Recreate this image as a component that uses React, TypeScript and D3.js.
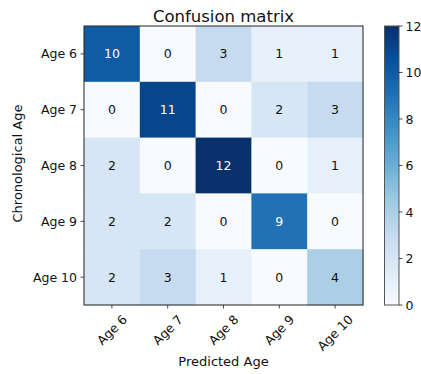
import React, { useEffect, useRef } from "react";
import * as d3 from "d3";

const labels = ["Age 6", "Age 7", "Age 8", "Age 9", "Age 10"];
// rows: chronological age, columns: predicted age
const matrix = [
  [10, 0, 3, 1, 1],
  [0, 11, 0, 2, 3],
  [2, 0, 12, 0, 1],
  [2, 2, 0, 9, 0],
  [2, 3, 1, 0, 4],
];
const colorbarTicks = [0, 2, 4, 6, 8, 10, 12];
const bluesStops = ["#f7fbff", "#deebf7", "#c6dbef", "#9ecae1", "#6baed6", "#4292c6", "#2171b5", "#08519c", "#08306b"];

const W = 421;
const H = 374;
const FONT = "DejaVu Sans, sans-serif";

export default function App() {
  const ref = useRef<SVGSVGElement>(null);

  useEffect(() => {
    const svg = d3.select(ref.current);
    svg.selectAll("*").remove();

    const left = 84, top = 26, size = 279;
    const vmax = d3.max(matrix.flat()) as number;
    const vmin = 0;

    const x = d3.scaleBand().domain(labels).range([left, left + size]);
    const y = d3.scaleBand().domain(labels).range([top, top + size]);
    const norm = d3.scaleLinear().domain([vmin, vmax]).range([0, 1]);
    const blues = d3
      .scaleLinear<string>()
      .domain(bluesStops.map((_, i) => i / (bluesStops.length - 1)))
      .range(bluesStops)
      .interpolate(d3.interpolateRgb);
    const color = (v: number) => blues(norm(v));

    const cells = matrix.flatMap((row, r) => row.map((v, c) => ({ r, c, v })));
    const g = svg.append("g");
    g.selectAll("rect.cell")
      .data(cells)
      .join("rect")
      .attr("x", (d) => x(labels[d.c])!)
      .attr("y", (d) => y(labels[d.r])!)
      .attr("width", x.bandwidth() + 0.5)
      .attr("height", y.bandwidth() + 0.5)
      .attr("fill", (d) => color(d.v));

    const thresh = vmax / 2;
    g.selectAll("text.val")
      .data(cells)
      .join("text")
      .attr("x", (d) => x(labels[d.c])! + x.bandwidth() / 2)
      .attr("y", (d) => y(labels[d.r])! + y.bandwidth() / 2)
      .attr("text-anchor", "middle")
      .attr("dominant-baseline", "central")
      .attr("font-family", FONT)
      .attr("font-size", 12.5)
      .attr("fill", (d) => (d.v > thresh ? "white" : "#111"))
      .text((d) => String(d.v));

    // frame
    svg.append("rect")
      .attr("x", left).attr("y", top).attr("width", size).attr("height", size)
      .attr("fill", "none").attr("stroke", "#222").attr("stroke-width", 1);

    // y axis ticks
    labels.forEach((l) => {
      const cy = y(l)! + y.bandwidth() / 2;
      svg.append("line")
        .attr("x1", left - 3.5).attr("x2", left).attr("y1", cy).attr("y2", cy)
        .attr("stroke", "#222").attr("stroke-width", 0.8);
      svg.append("text")
        .attr("x", left - 7).attr("y", cy)
        .attr("text-anchor", "end").attr("dominant-baseline", "central")
        .attr("font-family", FONT).attr("font-size", 12.5).attr("fill", "#111")
        .text(l);
    });

    // x axis ticks, rotated labels centred under each tick
    const fs = 12.5;
    const lineH = fs * 1.164;
    labels.forEach((l) => {
      const cx = x(l)! + x.bandwidth() / 2;
      const yb = top + size;
      svg.append("line")
        .attr("x1", cx).attr("x2", cx).attr("y1", yb).attr("y2", yb + 3.5)
        .attr("stroke", "#222").attr("stroke-width", 0.8);
      const t = svg.append("text")
        .attr("text-anchor", "middle").attr("dominant-baseline", "central")
        .attr("font-family", FONT).attr("font-size", fs).attr("fill", "#111")
        .text(l);
      const w = (t.node() as SVGTextElement).getComputedTextLength();
      const half = (w + lineH) / Math.SQRT2 / 2;
      const cyText = yb + 7 + half;
      t.attr("x", cx).attr("y", cyText).attr("transform", `rotate(-45, ${cx}, ${cyText})`);
    });

    // title and axis labels
    svg.append("text")
      .attr("x", left + size / 2).attr("y", 22)
      .attr("text-anchor", "middle").attr("font-family", FONT).attr("font-size", 16.5)
      .attr("fill", "#111").text("Confusion matrix");
    svg.append("text")
      .attr("x", left + size / 2).attr("y", 366)
      .attr("text-anchor", "middle").attr("font-family", FONT).attr("font-size", 13)
      .attr("fill", "#111").text("Predicted Age");
    svg.append("text")
      .attr("transform", `translate(17, ${top + size / 2 - 2}) rotate(-90)`)
      .attr("text-anchor", "middle").attr("dominant-baseline", "central")
      .attr("font-family", FONT).attr("font-size", 13)
      .attr("fill", "#111").text("Chronological Age");

    // colorbar
    const cbx = 384.5, cbw = 14.5;
    const cbScale = d3.scaleLinear().domain([vmin, vmax]).range([top + size, top]);
    const defs = svg.append("defs");
    const grad = defs.append("linearGradient")
      .attr("id", "cbgrad").attr("x1", 0).attr("y1", 1).attr("x2", 0).attr("y2", 0);
    bluesStops.forEach((c, i) => {
      grad.append("stop").attr("offset", i / (bluesStops.length - 1)).attr("stop-color", c);
    });
    svg.append("rect")
      .attr("x", cbx).attr("y", top).attr("width", cbw).attr("height", size)
      .attr("fill", "url(#cbgrad)");
    svg.append("rect")
      .attr("x", cbx).attr("y", top).attr("width", cbw).attr("height", size)
      .attr("fill", "none").attr("stroke", "#555").attr("stroke-width", 1);
    colorbarTicks.forEach((v) => {
      const ty = cbScale(v);
      svg.append("line")
        .attr("x1", cbx + cbw).attr("x2", cbx + cbw + 3.5).attr("y1", ty).attr("y2", ty)
        .attr("stroke", "#222").attr("stroke-width", 0.8);
      svg.append("text")
        .attr("x", cbx + cbw + 6.5).attr("y", ty)
        .attr("dominant-baseline", "central")
        .attr("font-family", FONT).attr("font-size", 12.5).attr("fill", "#111")
        .text(String(v));
    });
  }, []);

  return (
    <svg
      ref={ref}
      width={W}
      height={H}
      style={{ position: "absolute", left: 0, top: 0, background: "white" }}
    />
  );
}
